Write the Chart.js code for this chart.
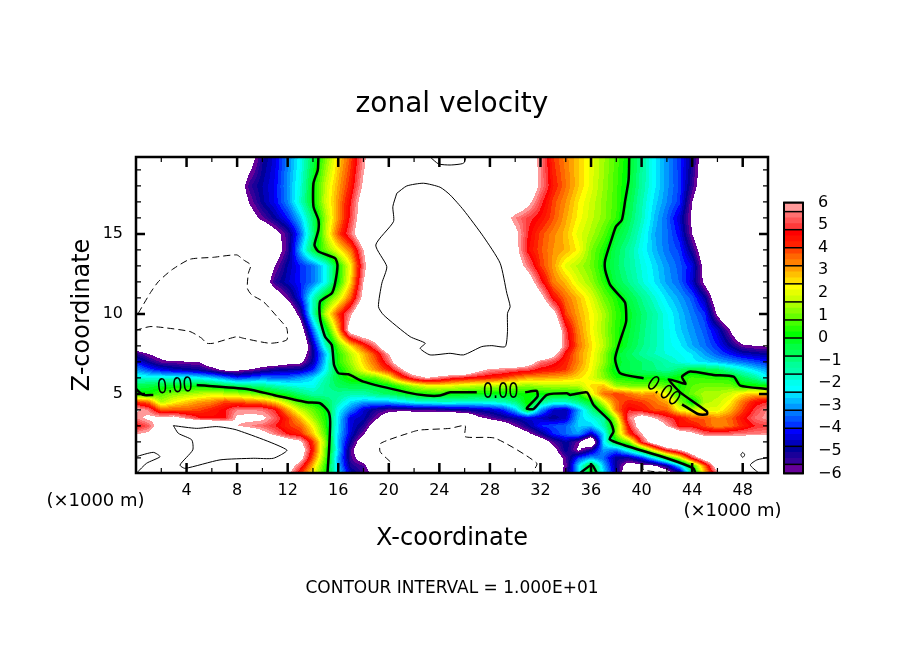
<!DOCTYPE html>
<html>
<head>
<meta charset="utf-8">
<title>zonal velocity</title>
<script src="https://cdn.jsdelivr.net/npm/chart.js@4"></script>
<style>
  html,body{margin:0;padding:0;background:#fff;}
  #wrap{position:relative;width:904px;height:654px;overflow:hidden;}
  #main{position:absolute;left:0;top:0;}
  #bar{position:absolute;left:770px;top:186px;}
</style>
</head>
<body>
<div id="wrap">
  <canvas id="main" width="904" height="654"></canvas>
  <canvas id="bar" width="100" height="304"></canvas>
</div>
<script>
// DATA
// grid columns: x = 0..50 (x1000 m), one value per column
const xCols = [0,1,2,3,4,5,6,7,8,9,10,11,12,13,14,15,16,17,18,19,20,21,22,23,24,25,26,27,28,29,30,31,32,33,34,35,36,37,38,39,40,41,42,43,44,45,46,47,48,49,50];
const zRows = [0,0.5,1,1.5,2,2.5,3,3.5,4,4.5,5,5.5,6,6.5,7,7.5,8,9,10,11,12,13,14,15,16,17,18,20];

const field = [
/*z0  */[10.5,9,8.5,9,10,9.5,9,8.5,8.5,8.5,8.5,8,6.4,4,2.2,.2,-2.4,-4.6,-5.5,-6.2,-8,-9.5,-9.5,-9.5,-9.5,-9.5,-9.5,-9.5,-9.5,-9.5,-9.5,-10,-8,-7,-5.7,-2.5,.3,-2.4,-4.8,-7.5,-8,-8,-7,-5.8,-1,2.7,5.5,6.5,7,10,10],
/*z.5 */[10.5,9.5,8.7,9,10.3,10.5,10.1,9.5,9.5,9.5,9.5,9,7,5.2,2.8,.4,-2.8,-5.2,-5.6,-7.5,-9.5,-10.5,-10.5,-10.5,-10.5,-10.5,-10.5,-10.5,-10.5,-10.5,-10.5,-9.5,-8,-7,-5.8,-2.5,.1,-2.8,-5,-6.8,-6.5,-6.2,-5,-2.6,.2,3.5,7,8.5,9,9.5,10],
/*z1  */[10,10.5,9.8,9.5,9.8,11,10.5,10.2,10.2,10.2,10.2,9.5,8,6.6,3.7,.8,-3,-5.5,-6.8,-9.5,-10.5,-11,-11,-11,-11,-11,-11,-11,-11,-11,-11,-10.5,-8,-7,-5.7,-3.8,-3,-3.5,-5,-5,-4,-2.2,0,1.8,4.8,7,8.5,8.5,9,9,10],
/*z1.5*/[9.5,9.5,9.5,10.5,10.5,12,12,12,12,12,12,12,9.5,7,4.3,1,-2.6,-5.6,-7.5,-10,-11,-11,-11,-11,-11,-11,-11,-11,-11,-11,-11,-10,-9,-6.5,-4.8,-6.2,-5,-3,-3.3,-1.8,0,2.6,4.8,6,7.5,9,9,9,9,9,9],
/*z2  */[9,9.5,10,11.5,12.5,13,13,13,13,13,13,8,7,6.3,4,1.2,-2.8,-5,-7,-9.5,-10.5,-11,-11,-11,-11,-11,-11,-11,-11,-10.5,-9,-8,-7,-5.6,-4.8,-5.8,-8,-2.3,0,1.2,4.8,7,9,9,9,8,8,8,8,8,8.5],
/*z2.5*/[5.9,6.3,8,11,12,12,12,11,9.5,7.8,6.5,5.6,4.7,4.2,2.7,.7,-2.6,-4.5,-5.9,-7.5,-9,-9.5,-10.5,-10.5,-10.5,-10.5,-10.5,-9,-8,-7.5,-7.3,-6.3,-5.2,-4,-3.5,-3,-4.6,-2.5,1.2,4,5.9,8,8.5,7,6.3,5.4,5.2,5.4,5.5,5.6,5.7],
/*z3  */[4.5,5.2,7,9.8,10,9,9,8,6,5.6,5.3,4.8,4.1,3.6,2.2,.4,-2.5,-4.4,-5.2,-6.8,-8,-9,-9,-9,-9,-9,-9,-9,-7.5,-7,-5.9,-5,-4,-3.7,-3.5,-2.6,-2.7,-1.5,1,4.7,7,7.5,6,4.5,4.5,3.8,3.2,3.5,4.2,4.8,5],
/*z3.5*/[5.6,6.3,6.3,6.5,5.6,4.8,4.6,4.6,6.2,6.4,6.3,5.3,4.1,2.8,1.4,.2,-2.4,-4.4,-4.7,-5.8,-7,-8,-8,-8,-8,-8,-8,-6.3,-5.7,-5.2,-4.8,-4.4,-4.6,-5,-4.6,-2.7,-2,-1.3,1.8,5.5,6.8,6,5,4.5,3.7,3.7,3.2,3.6,4.5,5.4,5.8],
/*z4  */[6.2,5.5,3.7,3.8,3.7,3.9,4.3,4.7,5.6,5.6,5.5,4.8,3.1,1.7,.9,.1,-2.2,-3.3,-4.5,-5.2,-5.6,-5.6,-5.5,-5.5,-5.4,-5.1,-5,-4.8,-4.6,-4.1,-2.8,-.2,-3,-4.5,-4.8,-3,-1.2,.5,3.5,4.8,4.4,3.8,3.7,2.2,1.8,2,2,2.8,3.9,5,5.7],
/*z4.5*/[4,3.5,1.5,2.2,2.7,3.1,3.3,3.9,3.8,3.5,3.3,2.6,1.5,.5,0,-.6,-1.5,-2.5,-2.9,-2.9,-2.8,-2.4,-2,-1.8,-1.7,-1.7,-1.9,-1.9,-1.8,-1.6,-1,.3,-1,-1.7,-1.7,-1,-.1,2,3.6,4.2,4,3.5,3,1.2,-.2,1.5,1.7,2.3,3.5,4.5,4.8],
/*z5  */[.3,.2,.8,1.2,1.4,1.6,1.9,1.7,1.5,1.2,.8,.2,-.2,-.9,-1.4,-1.3,-1.2,-1.4,-1.4,-1,-.7,-.2,.1,.2,.3,.1,.1,0,0,0,.1,.1,.1,.2,.1,.2,2,3.5,4,3.5,3,3.2,2,.3,1,1.5,1.5,1.8,2.5,2.8,2.8],
/*z5.5*/[-.6,-.4,-.2,-.1,0,.1,-.1,-.4,-.7,-.9,-1.1,-1.5,-1.8,-2,-2.1,-1.2,-.7,-.5,-.5,-.4,-.1,.7,1.5,2,2.2,2,1.8,1.6,1.5,1.4,1.3,1.2,1.4,1.5,1.5,1.6,2.5,2.8,1.3,1.1,1,1.1,.9,.2,.8,1,1,1,.3,.3,.1],
/*z6  */[-1.8,-1.9,-1.95,-1.9,-1.9,-2.2,-2.6,-3.2,-3.9,-3.6,-3.3,-3.4,-3.4,-3,-2.5,-1.5,-.3,.4,.5,.9,2,3.9,5.2,6,5.5,4.9,4.6,4.4,4.2,3.9,3.4,3,3,2.9,2.8,2.5,2,1.2,.3,.2,0,.2,-.1,.3,.6,.5,.4,.3,-.6,-1.2,-2.3],
/*z6.5*/[-3,-3.7,-4.2,-4.6,-4.8,-5,-5.5,-6.2,-6.2,-5.9,-5.4,-5,-4.9,-4.8,-4,-2.2,-.1,1,2.2,3.2,4.2,5.7,7.5,8,8,8,8,6.5,5.7,5.5,5.2,5,4.5,4.3,4,3,2.2,1,-.2,-.5,-.8,-1,-1.3,-.8,-.3,-.4,-.6,-1.3,-1.9,-2.5,-3],
/*z7  */[-4.2,-5,-5.7,-5.8,-5.9,-6,-7,-7.5,-8,-7.5,-7,-6.9,-6.5,-6.3,-4.8,-2.5,.4,1.4,2.6,3.7,5.3,7.5,8,8,8,8,8,8,8,8,8,7,5.5,5,4.2,3.3,2.3,1.3,-.1,-.5,-.8,-1.1,-1.5,-1.9,-2.3,-2.5,-2.8,-3.1,-3.4,-3.7,-4],
/*z7.5*/[-5.3,-6,-6.6,-8,-8,-8,-8,-8,-8,-8,-8,-8,-8,-7,-5,-2.7,.4,1.6,2.8,4.1,6,8,8,8,8,8,8,8,8,8,8,8,8,6.6,4.5,3.2,2.4,1.3,-.1,-.7,-1.2,-1.6,-1.9,-2.1,-2.4,-3,-3.6,-4.1,-4.6,-4.8,-5],
/*z8  */[-7,-8,-8,-8,-8,-8,-8,-8,-8,-8,-8,-8,-8,-8,-4.8,-1.7,.8,2.5,4,5.6,8,8,8,8,8,8,8,8,8,8,8,8,8,8,5.3,3.5,2.5,1.6,.4,-.4,-1,-1.5,-2,-2.3,-2.9,-3.4,-4,-4.9,-5.8,-6,-6.1],
/*z9  */[-8,-8,-8,-8,-8,-8,-8,-8,-8,-8,-8,-8,-8,-7,-3.4,-.3,3,7,8,8,8,8,8,8,8,8,8,8,8,8,8,8,8,8,5,3.3,2.3,1.4,.4,-.2,-.9,-1.5,-2,-2.6,-3.1,-3.6,-4.5,-6,-8,-8,-8],
/*z10 */[-8,-8,-8,-8,-8,-8,-8,-8,-8,-8,-8,-8,-7.5,-5.5,-1.6,1.7,4,5.8,8,8,8,8,8,8,8,8,8,8,8,8,8,8,8,6.6,3.9,3,2.3,1.5,.5,-.1,-.8,-1.4,-2.1,-2.7,-3.3,-3.9,-6.2,-8,-8,-8,-8],
/*z11 */[-8,-8,-8,-8,-8,-8,-8,-8,-8,-8,-8,-7,-5.8,-4.2,-1.7,.3,1.7,3.7,6.5,8,8,8,8,8,8,8,8,8,8,8,8,8,6.6,4.5,3.5,2.8,2,1,.3,-.4,-1.1,-1.8,-2.5,-3,-3.6,-4.8,-7,-8,-8,-8,-8],
/*z12 */[-7.5,-7.5,-7.5,-7.5,-7.5,-7.5,-7.5,-7.5,-7.5,-7.5,-7,-5.3,-4.6,-4,-3.4,-2.2,.2,2.6,6,8,8,8,8,8,8,8,8,8,8,8,8,7,5,3.4,2.8,1.9,1.3,.4,-.5,-1.1,-1.8,-2.4,-3,-3.5,-4.5,-6.3,-8,-8,-8,-8,-8],
/*z13 */[-7.5,-7.5,-7.5,-7.5,-7.5,-7.5,-7.5,-7.5,-7.5,-7.5,-7.5,-6,-4.8,-4,-3.4,-2.2,.2,2.3,5.5,8,8,8,8,8,8,8,8,8,8,8,7,5.5,4,3.1,2,1.5,1,.1,-.7,-1.3,-1.9,-2.5,-3.1,-3.6,-4.3,-6.5,-8,-8,-8,-8,-8],
/*z14 */[-7.5,-7.5,-7.5,-7.5,-7.5,-7.5,-7.5,-7.5,-7.5,-7.5,-7.5,-6.8,-5.4,-2.8,-.4,1,2.2,3.5,6,8,8,8,8,8,8,8,8,8,8,8,6.5,4.6,3.8,3.2,2.9,2.3,1.1,.3,-.6,-1.3,-2.1,-2.8,-3.4,-3.8,-5.2,-7,-8,-8,-8,-8,-8],
/*z15 */[-7.5,-7.5,-7.5,-7.5,-7.5,-7.5,-7.5,-7.5,-7.5,-7.5,-7.5,-6.5,-5.4,-3.5,-1,1.6,3.8,5.4,7.5,8,8,8,8,8,8,8,8,8,8,7.5,6.4,4.8,3.9,3.3,2.8,2,1.5,.8,-.2,-.9,-1.9,-2.9,-3.4,-4.2,-6,-7.5,-8,-8,-8,-8,-8],
/*z16 */[-7.5,-7.5,-7.5,-7.5,-7.5,-7.5,-7.5,-7.5,-7.5,-6.6,-5.7,-4.9,-4,-2.7,-.8,1.4,3.2,5,7,8,8,8,8,8,8,8,8,8,8,6.8,5.6,5,4.5,3.8,3,2.3,1.7,1.2,.5,-.6,-1.6,-2.7,-3.5,-4.5,-6.2,-7.5,-8,-8,-8,-8,-8],
/*z17 */[-7.5,-7.5,-7.5,-7.5,-7.5,-7.5,-7.5,-7.5,-7.2,-5.9,-4.9,-4.2,-3.2,-1.7,0,1.8,3.2,4.8,6.8,8,8,8,8,8,8,8,8,8,8,8,7.5,6.4,5,3.9,3.2,2.4,1.8,1.2,.6,-.4,-1.5,-2.5,-3.2,-3.9,-6,-7.5,-8,-8,-8,-8,-8],
/*z18 */[-8,-8,-8,-8,-8,-8,-8,-8,-6.9,-5.4,-4.8,-4.2,-3.1,-1.9,0,1.7,3,4.3,6.2,7.5,8,8,8,8,8,8,8,8,8,8,8,7.4,5.7,4.3,3.5,2.7,2,1.3,.6,-.2,-1.3,-2.3,-3.1,-3.8,-5.4,-7,-8,-8,-8,-8,-8],
/*z20 */[-8,-8,-8,-8,-8,-8,-8,-8,-8,-6.8,-5.2,-4.4,-3.3,-2.2,-.6,1,2.5,3.8,5.6,7.5,8,8,8,8,8,8,8,8,8,8,8,7,5.6,4,3.3,2.7,2,1.4,.7,0,-1.2,-2.3,-3.1,-3.9,-5,-6.8,-8,-8,-8,-8,-8]
];

// contour lines, pairs of x (x1000 m), z (x1000 m)
const zeroUpperLeft = [[14.43,19.81],[14.38,19],[14.04,18.17],[14.04,16.71],[14.43,15.88],[14.43,15.25],[14.12,14.31],[14.43,13.9],[15.75,13.48],[15.94,13.06],[15.75,11.92],[15.49,11.29],[14.56,10.77],[14.56,9.73],[14.96,8.58],[15.49,8.06],[15.67,6.81],[16.02,6.29],[16.81,6.23],[17.99,5.77],[21.42,5.1],[23,4.9],[24.06,4.9],[24.85,5.1],[26.96,5.1]];
const zeroMiddle = [[30.79,5.1],[31.71,5.19],[31.76,4.83],[30.92,4.1],[31.45,4.06],[32.51,4.94],[34.09,5.04],[34.36,4.94],[35.67,5.1],[36.2,4.31],[37.52,3.27],[37.78,2.65],[37.47,2.17],[38.58,1.81],[42,0.98],[44.1,0.35],[44.25,0.06]];
const zeroLeft = [[0,5.31],[0.58,4.94],[1.37,4.94]];
const zeroLower = [[4.8,5.56],[8.76,5.31],[10.87,4.94],[13.5,4.48],[14.56,4.42],[15.22,3.9],[15.36,3.27],[15.28,1.6],[15.15,0.06]];
const zeroRight = [[39.02,19.81],[38.97,18.38],[38.71,17.13],[38.44,15.88],[37.97,15.46],[37.65,14.73],[37.12,13.38],[37.12,12.75],[37.52,11.81],[38.44,10.98],[38.71,10.67],[38.79,9.63],[38.71,9.31],[37.91,7.23],[38.31,6.29],[40.16,5.98]];
const zeroTongue = [[49.92,5.31],[47.81,5.52],[47.28,6.08],[45.7,6.19],[43.85,6.4],[43.2,6.08],[43.46,5.63],[42.14,5.92],[43.06,5.1],[45.17,3.9],[45.17,3.73],[44.51,3.73],[43.2,4.35]];
const zeroBottom = [[35.14,0.06],[36.06,0.56],[36.46,0.06]];
const zeroLines = [zeroUpperLeft,zeroMiddle,zeroLeft,zeroLower,zeroRight,zeroTongue,zeroBottom];

const plusIsland = [[20.63,17.54],[21.42,18],[22.74,18.17],[24.06,17.92],[24.85,17.44],[25.91,16.5],[27.49,14.83],[28.81,13.17],[29.34,11.29],[29.6,10.46],[29.39,10.04],[29.39,8.9],[29.21,7.96],[28.15,8.02],[27.36,7.96],[25.91,7.44],[24.85,7.54],[23.27,7.44],[22.48,7.85],[22.88,8.17],[21.69,8.58],[19.58,9.94],[19.18,10.46],[19.45,11.92],[19.84,12.96],[18.97,14.31],[20.37,15.77],[20.32,16.71],[20.63,17.54]];
const plusTop = [[23.27,19.81],[23.93,19.38],[24.85,19.31],[25.91,19.42],[26.12,19.81]];
const plusLoopLeft = [[2.96,3.02],[3.35,2.54],[4.41,2.13],[4.49,1.5],[3.48,0.56],[3.88,0.35],[6.65,0.88],[9.29,0.98],[10.87,0.98],[11.93,1.5],[7.97,2.75],[6.39,2.96],[4.8,2.85],[2.96,3.02]];
const plusCorner = [[0,1.08],[1.37,1.35],[1.9,1.08],[0.84,0.67],[0.05,0.06]];
const plusRight = [[50,1.02],[49.13,0.88],[48.6,0.56],[49.26,0.06]];
const plusDot = [[47.84,1.19],[48,1.35],[48.16,1.19],[48,1.03],[47.84,1.19]];
const plusLines = [plusIsland,plusTop,plusLoopLeft,plusCorner,plusRight,plusDot];

const minusLeft = [[0.18,10.04],[1.11,11.29],[1.77,12.02],[2.82,12.75],[4.27,13.42],[6.12,13.54],[7.97,13.69],[8.5,13.38],[9.08,13.06],[8.89,12.54],[8.81,11.6],[9.16,11.19],[10.08,10.77],[11.27,9.73],[11.93,9.1],[11.93,8.38],[10.61,8.17],[8.5,8.48],[7.97,8.58],[6.12,8.17],[5.59,8.17],[5.2,8.48],[4.27,8.9],[2.16,9.15],[1.11,9.21],[0.05,9]];
const minusBottom = [[20.11,0.77],[19.31,1.4],[19.37,1.92],[21.95,2.65],[22.48,2.75],[24.85,2.85],[26.04,3.02],[26.04,2.33],[28.42,2.23],[31.71,0.67],[31.33,0.06]];
const minusRight = [[40.1,0.67],[40.15,0.25],[42.27,0.06]];
const minusLines = [minusLeft,minusBottom,minusRight];

// inline contour labels: x, z, text, angle in degrees
const labelX = [3.09,28.85,41.7];
const labelZ = [5.44,5.06,5.13];
const labelAngle = [-4,0,35];
const labelText = ["0.00","0.00","0.00"];

// ticks
const xTicks = [4,8,12,16,20,24,28,32,36,40,44,48];
const xMinorTicks = [2,6,10,14,18,22,26,30,34,38,42,46,50];
const zTicks = [5,10,15];
const zMinorTicks = [1,2,3,4,6,7,8,9,11,12,13,14,16,17,18,19];
const cbTicks = [6,5,4,3,2,1,0,-1,-2,-3,-4,-5,-6];

// colour bands
const bandEdges = [-6,-5.6,-5.33,-5.07,-4.8,-4.53,-4.27,-4,-3.73,-3.47,-3.2,-2.93,-2.67,-2.4,-2.13,-1.87,-1.6,-1.33,-1.07,-.8,-.53,-.27,0,.27,.53,.8,1.07,1.33,1.6,1.87,2.13,2.4,2.67,2.93,3.2,3.47,3.73,4,4.27,4.53,4.8,5.07,5.33,5.6,6];
const bandColors = ["#660099","#330099","#1a0099","#000099","#0000bb","#0000dd","#0000ff","#0033ff","#0055ff","#0077ff","#0099ff","#00bbff","#00ddff","#00ffff","#00ffee","#00ffcc","#00ffaa","#00ff99","#00ff77","#00ff55","#00ff44","#00ff22","#00ff00","#22ff00","#44ff00","#66ff00","#88ff00","#aaff00","#ccff00","#e6ff00","#ffff00","#ffdd00","#ffc000","#ffa000","#ff8000","#ff6600","#ff4400","#ff2000","#ff1000","#ff0000","#ff3a3a","#ff5555","#ff7070","#ff9999"];
const boxEdges = [-6,-5.6,-4.8,-4,-3.2,-2.4,-1.6,-.8,0,.8,1.6,2.4,3.2,4,4.8,5.6,6];

field.forEach((r,i)=>{ if(r.length!==xCols.length) throw new Error("row "+i+" has "+r.length); });

const FONT = "'DejaVu Sans', sans-serif";
const rgb = bandColors.map(c=>[parseInt(c.slice(1,3),16),parseInt(c.slice(3,5),16),parseInt(c.slice(5,7),16)]);

function bandOf(v){
  if(v<bandEdges[0]||v>bandEdges[bandEdges.length-1]) return -1;
  for(let i=0;i<bandColors.length;i++){
    if(v<=bandEdges[i+1]) return i;
  }
  return -1;
}

function sampleField(x,z){
  let i=Math.min(Math.max(Math.floor(x),0),xCols.length-2);
  let j=0;
  while(j<zRows.length-2&&z>zRows[j+1]) j++;
  let tx=x-xCols[i], tz=(z-zRows[j])/(zRows[j+1]-zRows[j]);
  let a=field[j][i]*(1-tx)+field[j][i+1]*tx;
  let b=field[j+1][i]*(1-tx)+field[j+1][i+1]*tx;
  return a*(1-tz)+b*tz;
}

// shaded field goes under the axes
const shadePlugin={
  id:"shade",
  beforeDraw(chart){
    const {ctx,chartArea:a,scales:{x,y}}=chart;
    const w=Math.round(a.right-a.left), h=Math.round(a.bottom-a.top);
    const img=ctx.createImageData(w,h);
    for(let py=0;py<h;py++){
      const z=y.getValueForPixel(a.top+py+.5);
      for(let px=0;px<w;px++){
        const b=bandOf(sampleField(x.getValueForPixel(a.left+px+.5),z));
        const c=b<0?[255,255,255]:rgb[b];
        const k=(py*w+px)*4;
        img.data[k]=c[0]; img.data[k+1]=c[1]; img.data[k+2]=c[2]; img.data[k+3]=255;
      }
    }
    ctx.putImageData(img,Math.round(a.left),Math.round(a.top));
  }
};

// frame, inward ticks, contour labels and the unit notes
const framePlugin={
  id:"frame",
  afterDraw(chart){
    const {ctx,chartArea:a,scales:{x,y}}=chart;
    ctx.save();
    ctx.strokeStyle="#000";
    function xt(list,len,lw){
      ctx.lineWidth=lw;
      list.forEach(v=>{
        const p=x.getPixelForValue(v);
        ctx.beginPath();ctx.moveTo(p,a.top);ctx.lineTo(p,a.top+len);ctx.moveTo(p,a.bottom);ctx.lineTo(p,a.bottom-len);ctx.stroke();
      });
    }
    function zt(list,len,lw){
      ctx.lineWidth=lw;
      list.forEach(v=>{
        const p=y.getPixelForValue(v);
        ctx.beginPath();ctx.moveTo(a.left,p);ctx.lineTo(a.left+len,p);ctx.moveTo(a.right,p);ctx.lineTo(a.right-len,p);ctx.stroke();
      });
    }
    xt(xTicks,10,2.5); xt(xMinorTicks,5,1.2);
    zt(zTicks,9,2.5); zt(zMinorTicks,5,1.2);
    ctx.lineWidth=2.5;
    ctx.strokeRect(a.left,a.top,a.right-a.left,a.bottom-a.top);

    ctx.fillStyle="#000";
    ctx.textAlign="center";
    ctx.textBaseline="middle";
    ctx.font="17px "+FONT;
    labelText.forEach((t,i)=>{
      ctx.save();
      ctx.translate(x.getPixelForValue(labelX[i]),y.getPixelForValue(labelZ[i]));
      ctx.rotate(labelAngle[i]*Math.PI/180);
      ctx.scale(.95,1.2);
      ctx.fillText(t,0,0);
      ctx.restore();
    });
    ctx.font="18px "+FONT;
    ctx.fillText("(\u00d71000 m)",a.left-40.5,a.bottom+28);
    ctx.fillText("(\u00d71000 m)",a.right-35.5,a.bottom+38);
    ctx.restore();
  }
};

function lineSet(pts,width,dash){
  return {
    data:pts.map(p=>({x:p[0],y:p[1]})),
    showLine:true,pointRadius:0,borderColor:"#000",borderWidth:width,borderDash:dash,tension:0.2
  };
}

new Chart(document.getElementById("main"),{
  type:"scatter",
  data:{datasets:[
    ...zeroLines.map(p=>lineSet(p,2.5,[])),
    ...plusLines.map(p=>lineSet(p,1,[])),
    ...minusLines.map(p=>lineSet(p,1,[7,4]))
  ]},
  options:{
    responsive:false,animation:false,devicePixelRatio:1,
    layout:{padding:0},
    plugins:{
      legend:{display:false},tooltip:{enabled:false},
      title:{display:true,text:"zonal velocity",color:"#000",font:{family:FONT,size:28,weight:"normal",lineHeight:1.2},padding:{top:88,bottom:35.4}},
      subtitle:{display:true,position:"bottom",text:"CONTOUR INTERVAL = 1.000E+01",color:"#000",font:{family:FONT,size:17,weight:"normal",lineHeight:1.2},padding:{top:5,bottom:55.6}}
    },
    scales:{
      x:{
        type:"linear",min:0,max:50,
        grid:{display:false},border:{display:false},
        afterBuildTicks(s){s.ticks=xTicks.map(v=>({value:v}));},
        afterFit(s){s.height=100;},
        ticks:{color:"#000",maxRotation:0,autoSkip:false,padding:0,font:{family:FONT,size:16}},
        title:{display:true,text:"X-coordinate",color:"#000",font:{family:FONT,size:24,lineHeight:1.2},padding:{top:0,bottom:19.6}}
      },
      y:{
        type:"linear",min:0.06,max:19.81,
        grid:{display:false},border:{display:false},
        afterBuildTicks(s){s.ticks=zTicks.map(v=>({value:v}));},
        afterFit(s){s.width=136;},
        ticks:{color:"#000",autoSkip:false,padding:5,font:{family:FONT,size:16}},
        title:{display:true,text:"Z-coordinate",color:"#000",font:{family:FONT,size:24,lineHeight:1.2},padding:{top:68.6,bottom:0}}
      },
      // empty scale, keeps the room for the colour bar
      side:{
        type:"linear",axis:"y",position:"right",
        grid:{display:false},border:{display:false},ticks:{display:false},
        afterFit(s){s.width=136;}
      }
    }
  },
  plugins:[shadePlugin,framePlugin]
});

// colour bar
const boxPlugin={
  id:"boxes",
  afterDatasetsDraw(chart){
    const {ctx,chartArea:a,scales:{y}}=chart;
    ctx.save();
    ctx.strokeStyle="#000";
    ctx.lineWidth=1.5;
    boxEdges.forEach(v=>{
      const p=y.getPixelForValue(v);
      ctx.beginPath();ctx.moveTo(a.left,p);ctx.lineTo(a.right,p);ctx.stroke();
    });
    ctx.lineWidth=2;
    ctx.strokeRect(a.left,a.top,a.right-a.left,a.bottom-a.top);
    ctx.restore();
  }
};

new Chart(document.getElementById("bar"),{
  type:"bar",
  data:{
    labels:["v"],
    datasets:bandColors.map((c,i)=>({data:[[bandEdges[i],bandEdges[i+1]]],backgroundColor:c,borderWidth:0,barPercentage:1,categoryPercentage:1}))
  },
  options:{
    responsive:false,animation:false,devicePixelRatio:1,
    layout:{autoPadding:false,padding:{left:14,right:0,top:9,bottom:7}},
    plugins:{legend:{display:false},tooltip:{enabled:false}},
    scales:{
      x:{stacked:true,display:false},
      y:{
        position:"right",min:-6,max:6,
        grid:{display:false},border:{display:false},
        afterBuildTicks(s){s.ticks=cbTicks.map(v=>({value:v}));},
        afterFit(s){s.width=67;},
        ticks:{color:"#000",autoSkip:false,padding:7,font:{family:FONT,size:16},
          callback:v=>String(v).replace("-","\u2212")}
      }
    }
  },
  plugins:[boxPlugin]
});
</script>
</body>
</html>
